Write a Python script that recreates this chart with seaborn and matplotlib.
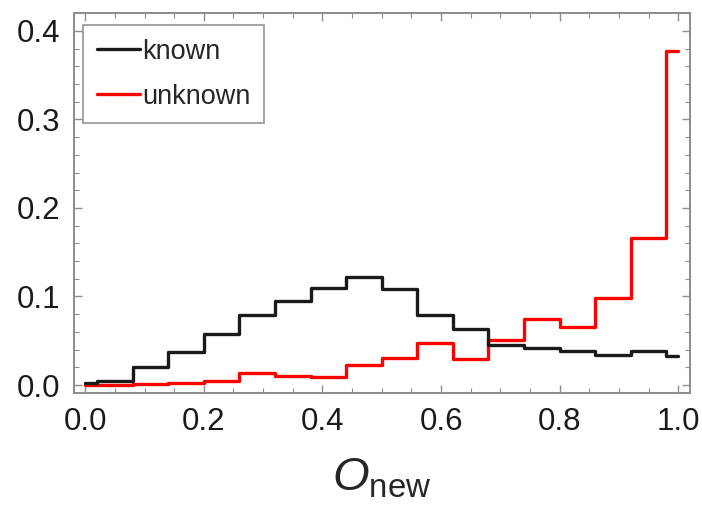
import numpy as np
import pandas as pd
import matplotlib
matplotlib.use("Agg")
import matplotlib.pyplot as plt
from matplotlib.lines import Line2D
from matplotlib.ticker import MultipleLocator
import seaborn as sns

# bin edges (first and last bins are half-width, clipped at 0 and 1)
edges = [0.0, 0.02, 0.08, 0.14, 0.20, 0.26, 0.32, 0.38, 0.44, 0.50,
         0.56, 0.62, 0.68, 0.74, 0.80, 0.86, 0.92, 0.98, 1.0]

# heights
known = [0.002, 0.005, 0.020, 0.037, 0.058, 0.079, 0.095, 0.110, 0.122,
         0.108, 0.079, 0.063, 0.045, 0.042, 0.038, 0.034, 0.038, 0.033]
unknown = [0.0, 0.0005, 0.001, 0.002, 0.005, 0.014, 0.010, 0.009, 0.023,
           0.031, 0.048, 0.029, 0.051, 0.074, 0.066, 0.098, 0.166, 0.377]

labels = ["known", "unknown"]
colors = {"known": "#1a1a1a", "unknown": "#ff0000"}

centers = [(a + b) / 2 for a, b in zip(edges[:-1], edges[1:])]
df = pd.DataFrame({
    "O": centers * 2,
    "w": known + unknown,
    "type": ["known"] * len(known) + ["unknown"] * len(unknown),
})

sns.set_style("ticks")
plt.rcParams["font.family"] = ["Liberation Sans", "DejaVu Sans"]
plt.rcParams["mathtext.fontset"] = "custom"
plt.rcParams["mathtext.rm"] = "Liberation Sans"
plt.rcParams["mathtext.it"] = "Liberation Sans:italic"

fig = plt.figure(figsize=(7.02, 5.07), dpi=100)
ax = fig.add_axes([0.1054, 0.2249, 0.8776, 0.7491])

sns.histplot(data=df, x="O", weights="w", hue="type", bins=edges,
             element="step", fill=False, palette=colors, linewidth=2.4,
             legend=False, ax=ax)

ax.set_xlim(-0.019, 1.02)
ax.set_ylim(-0.009, 0.42)
ax.xaxis.set_major_locator(MultipleLocator(0.2))
ax.xaxis.set_minor_locator(MultipleLocator(0.05))
ax.yaxis.set_major_locator(MultipleLocator(0.1))
ax.yaxis.set_minor_locator(MultipleLocator(0.02))
ax.xaxis.set_major_formatter(matplotlib.ticker.FormatStrFormatter("%.1f"))
ax.yaxis.set_major_formatter(matplotlib.ticker.FormatStrFormatter("%.1f"))

frame = "#8c8c8c"
for s in ax.spines.values():
    s.set_visible(True)
    s.set_color(frame)
    s.set_linewidth(1.4)
ax.tick_params(which="both", direction="in", top=True, right=True,
               color=frame, labelsize=22.5, labelcolor="#1a1a1a")
ax.tick_params(which="major", length=6, width=1.0, pad=10)
ax.tick_params(which="minor", length=3.5, width=0.8)

ax.set_xlabel(r"$O_{\mathrm{new}}$", fontsize=34, labelpad=14)
ax.set_ylabel("")

handles = [Line2D([], [], color=colors[k], lw=2.4) for k in labels]
leg = ax.legend(handles, labels, loc="upper left", fontsize=19.5,
                frameon=True, fancybox=False, handlelength=1.6,
                handletextpad=0.1, borderpad=0.5, labelspacing=0.7,
                borderaxespad=0, bbox_to_anchor=(0.0146, 0.968))
leg.get_frame().set_edgecolor("#7a7a7a")
leg.get_frame().set_linewidth(1.2)

fig.savefig("out.png", dpi=100)
